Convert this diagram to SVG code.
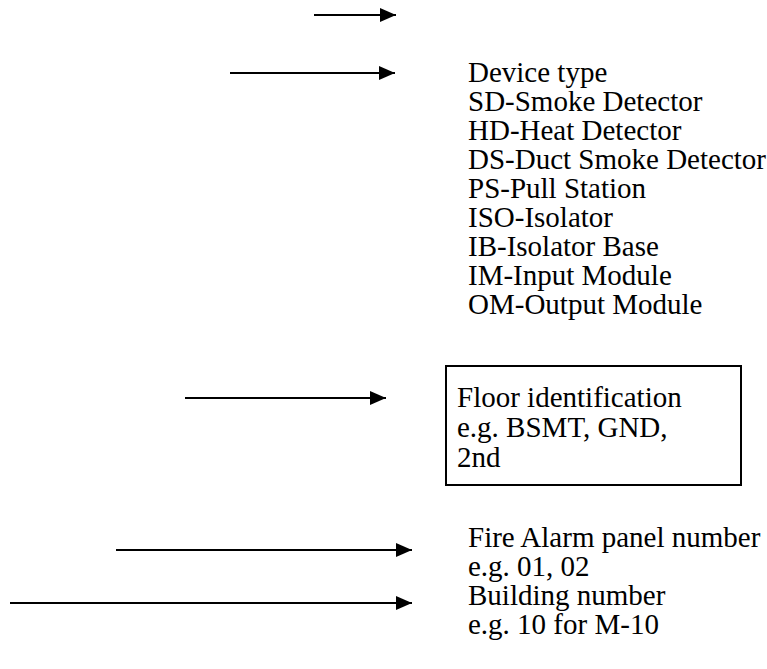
<svg xmlns="http://www.w3.org/2000/svg" width="767" height="669" viewBox="0 0 767 669">
<style>
text{font-family:'Liberation Serif','Times New Roman','DejaVu Serif',serif;font-size:29px;fill:#000}
.c line{stroke:#000;stroke-width:2.2}
</style>
<defs>
<marker id="ah" markerUnits="userSpaceOnUse" markerWidth="18" markerHeight="16" refX="16" refY="7" orient="auto">
<path d="M0,0 L16,7 L0,14 Z" fill="#000"/>
</marker>
</defs>
<rect width="767" height="669" fill="#fff"/>
<g class="c" id="connectors">
<line x1="314" y1="15" x2="396" y2="15" marker-end="url(#ah)"/>
<line x1="230" y1="73" x2="395" y2="73" marker-end="url(#ah)"/>
<line x1="185" y1="398" x2="386" y2="398" marker-end="url(#ah)"/>
<line x1="116" y1="550" x2="412" y2="550" marker-end="url(#ah)"/>
<line x1="10" y1="603" x2="412" y2="603" marker-end="url(#ah)"/>
</g>
<g id="device-type">
<text x="468" y="82">Device type</text>
<text x="468" y="111">SD-Smoke Detector</text>
<text x="468" y="140">HD-Heat Detector</text>
<text x="468" y="169">DS-Duct Smoke Detector</text>
<text x="468" y="198">PS-Pull Station</text>
<text x="468" y="227">ISO-Isolator</text>
<text x="468" y="256">IB-Isolator Base</text>
<text x="468" y="285">IM-Input Module</text>
<text x="468" y="314">OM-Output Module</text>
</g>
<g id="floor">
<rect x="446" y="366" width="295" height="119" fill="none" stroke="#000" stroke-width="2"/>
<text x="457" y="407">Floor identification</text>
<text x="457" y="437">e.g. BSMT, GND,</text>
<text x="457" y="467">2nd</text>
</g>
<g id="panel">
<text x="468" y="547">Fire Alarm panel number</text>
<text x="468" y="576">e.g. 01, 02</text>
</g>
<g id="building">
<text x="468" y="605">Building number</text>
<text x="468" y="634">e.g. 10 for M-10</text>
</g>
</svg>
